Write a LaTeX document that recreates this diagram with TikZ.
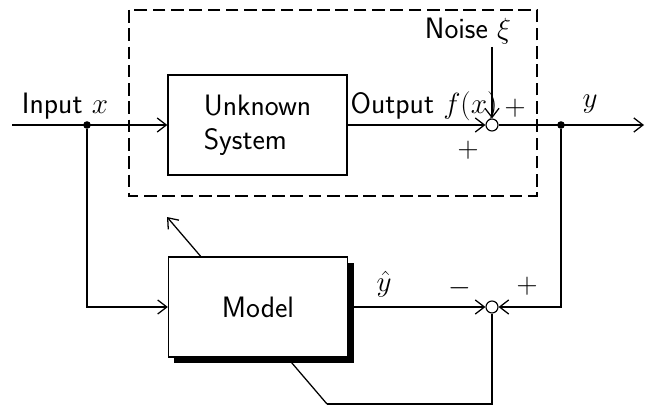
\documentclass[tikz,border=0pt]{standalone}
\usetikzlibrary{arrows.meta,shadows}

\tikzset{
  block/.style={draw, fill=white, line width=0.9pt, minimum width=4.475cm, minimum height=2.5cm, inner sep=0pt, align=left},
  sumnode/.style={draw, circle, fill=white, line width=0.8pt, minimum size=0.3cm, inner sep=0pt},
  dotnode/.style={circle, fill=black, minimum size=0.19cm, inner sep=0pt},
  lbl/.style={inner sep=1pt},
}

\begin{document}
\begin{tikzpicture}[x=0.025cm, y=-0.025cm, line width=0.9pt,
    >={Straight Barb[length=6.5pt,width=10pt]},
    every node/.style={font=\sffamily\fontsize{21}{24}\selectfont}]
    \useasboundingbox (0,0) rectangle (651,407);

    % Unknown system inside the dashed frame
    \draw[dash pattern=on 9pt off 4pt] (129,10) rectangle (537,196);
    \node[block] (sys) at (257.5,125) {Unknown\\System};

    % Input and branch point
    \coordinate (in) at (12,125);
    \node[dotnode] (xs) at (87,125) {};
    \node[lbl] (inlbl) at (65,106) {Input $x$};

    % Summing point with noise
    \node[sumnode] (s1) at (492,125) {};
    \coordinate (noise) at (492,47);
    \node[lbl] (noiselbl) at (468,31) {Noise $\xi$};
    \node[lbl] (outlbl) at (424,106) {Output $f(x)$};
    \node[lbl] (p1) at (515,108) {$+$};
    \node[lbl] (p2) at (468,150) {$+$};

    % Measured output
    \node[dotnode] (ys) at (561,125) {};
    \coordinate (out) at (644,125);
    \node[lbl] (ylbl) at (590,104) {$y$};

    % Adaptation arrow (behind the model)
    \coordinate (bot) at (327,404);
    \coordinate (tip) at (167,217);
    \draw[->] (bot) -- (tip);

    % Model with shadow
    \node[block, drop shadow={shadow xshift=0.15cm, shadow yshift=-0.15cm, fill=black, opacity=1}] (model) at (258,307) {Model};

    % Error summing point
    \node[lbl] (yhat) at (384,284) {$\hat{y}$};
    \node[lbl] (minus) at (460,288) {$-$};
    \node[lbl] (p3) at (527,286) {$+$};
    \node[sumnode] (s2) at (492,307) {};

    % Connections
    \draw[->] (in) -- (sys);
    \draw[->] (sys) -- (s1);
    \draw[->] (noise) -- (s1);
    \draw[->] (s1) -- (out);
    \draw[->] (xs) |- (model);
    \draw[->] (model) -- (s2);
    \draw[->] (ys) |- (s2);
    \draw (s2) |- (bot);
\end{tikzpicture}
\end{document}
